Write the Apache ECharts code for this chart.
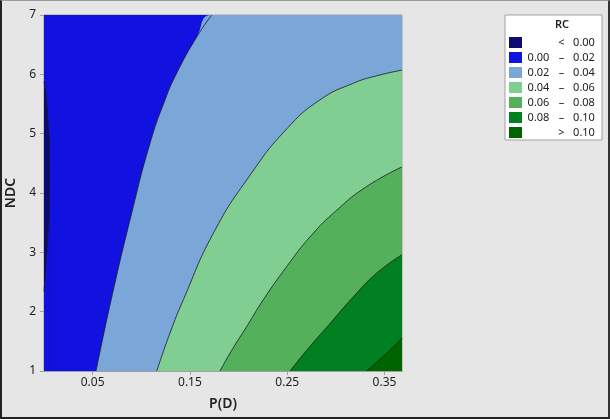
<!DOCTYPE html>
<html>
<head>
<meta charset="utf-8">
<title>RC contour</title>
<script src="https://cdn.jsdelivr.net/npm/echarts@6/dist/echarts.min.js"></script>
<style>
  html, body { margin: 0; padding: 0; background: #e6e6e6; }
  #wrap { position: relative; width: 610px; height: 419px; }
  #chart { width: 610px; height: 419px; }
  #frame {
    position: absolute; left: 0; top: 0; width: 610px; height: 419px;
    box-sizing: border-box; pointer-events: none;
    border-left: 2px solid #222; border-bottom: 2px solid #222;
    border-right: 2px solid #333; border-top: 1px solid #9a9a9a;
  }
</style>
</head>
<body>
<div id="wrap">
  <div id="chart"></div>
  <div id="frame"></div>
</div>
<script>
// RC 等值线图 (P(D) x NDC)

const bandNames = ['< 0.00', '0.00 – 0.02', '0.02 – 0.04', '0.04 – 0.06', '0.06 – 0.08', '0.08 – 0.10', '> 0.10'];
const xTicks = [0.05, 0.15, 0.25, 0.35];

// contour lines, [P(D), NDC]
const topEdge = [[0, 7], [0.368, 7]];
const c000Upper = [[0, 5.88], [0.0012, 5.75], [0.0028, 5.52], [0.0045, 5.12], [0.0054, 4.9], [0.0056, 4.3]];
const c000Lower = [[0, 2.34], [0.0012, 2.6], [0.0018, 2.76], [0.0028, 2.99], [0.0045, 3.43], [0.0054, 3.66], [0.0056, 4.3]];
const c002 = [[0.0535, 1.0], [0.069, 2.2], [0.0901, 3.66], [0.109, 4.84], [0.1244, 5.57], [0.1364, 6.02],
  [0.157, 6.63], [0.1724, 7.0]];
const c004 = [[0.1159, 1.0], [0.1295, 1.64], [0.1432, 2.2], [0.174, 3.32], [0.2118, 4.3], [0.2495, 5.08],
  [0.2837, 5.57], [0.318, 5.85], [0.3454, 5.99], [0.368, 6.07]];
const c006 = [[0.1809, 1.0], [0.193, 1.35], [0.2084, 1.75], [0.2254, 2.2], [0.2495, 2.76], [0.2734, 3.26],
  [0.3009, 3.71], [0.3317, 4.11], [0.368, 4.44]];
const c008 = [[0.2529, 1.0], [0.2701, 1.35], [0.294, 1.8], [0.318, 2.25], [0.342, 2.65], [0.368, 2.96]];
const c010 = [[0.3317, 1.0], [0.3523, 1.3], [0.368, 1.55]];

const colors = ['#0b0b72', '#1212e0', '#7ba7d8', '#80ce91', '#55b05c', '#008020', '#006400'];
const font = 'Noto Sans';
const textColor = '#222';
const xMax = 0.368;

const chart = echarts.init(document.getElementById('chart'));

const fill = (name, data, color) => ({
  name: name,
  type: 'line',
  data: data,
  color: color,
  showSymbol: false,
  smooth: 0.5,
  silent: true,
  lineStyle: { width: 0 },
  itemStyle: { color: color },
  areaStyle: { color: color, opacity: 1, origin: 'start' }
});

const stroke = data => ({
  type: 'line',
  data: data,
  showSymbol: false,
  smooth: 0.5,
  silent: true,
  lineStyle: { color: '#1a1a1a', width: 0.8 }
});

const series = [
  fill(bandNames[1], topEdge, colors[1]),
  fill(bandNames[0], c000Upper, colors[0]),
  fill(bandNames[1], c000Lower, colors[1]),
  fill(bandNames[2], c002.concat([[xMax, 7]]), colors[2]),
  fill(bandNames[3], c004, colors[3]),
  fill(bandNames[4], c006, colors[4]),
  fill(bandNames[5], c008, colors[5]),
  fill(bandNames[6], c010, colors[6]),
  stroke(c000Upper), stroke(c000Lower),
  stroke(c002), stroke(c004), stroke(c006), stroke(c008), stroke(c010)
];

const option = {
  animation: false,
  backgroundColor: '#e6e6e6',
  textStyle: { fontFamily: font },
  grid: {
    left: 44, right: 208, top: 15, bottom: 48,
    show: true, borderColor: '#a0a0a0', borderWidth: 1,
    outerBoundsMode: 'none'
  },
  xAxis: {
    type: 'value',
    min: 0,
    max: xMax,
    name: 'P(D)',
    nameLocation: 'middle',
    nameGap: 26,
    nameTextStyle: { fontFamily: font, fontSize: 14, fontWeight: 600, color: textColor },
    axisLine: { lineStyle: { color: '#a0a0a0' } },
    axisTick: { customValues: xTicks, length: 4, lineStyle: { color: '#a0a0a0' } },
    axisLabel: {
      customValues: xTicks,
      formatter: v => v.toFixed(2),
      margin: 6,
      fontFamily: font, fontSize: 12, color: textColor
    },
    splitLine: { show: false }
  },
  yAxis: {
    type: 'value',
    min: 1,
    max: 7,
    interval: 1,
    name: 'NDC',
    nameLocation: 'middle',
    nameGap: 24,
    nameTextStyle: { fontFamily: font, fontSize: 14, fontWeight: 600, color: textColor },
    axisLine: { show: true, lineStyle: { color: '#a0a0a0' } },
    axisTick: { show: true, length: 4, lineStyle: { color: '#a0a0a0' } },
    axisLabel: { margin: 8, fontFamily: font, fontSize: 12, color: textColor },
    splitLine: { show: false }
  },
  legend: {
    data: bandNames,
    orient: 'vertical',
    left: 509,
    top: 37,
    padding: 0,
    itemWidth: 13,
    itemHeight: 11,
    itemGap: 4,
    icon: 'rect',
    selectedMode: false,
    itemStyle: { borderWidth: 0 },
    formatter: name => {
      const p = name.split(' ');
      const lo = p.length === 3 ? p[0] : ' ';
      const sym = p.length === 3 ? p[1] : p[0];
      const hi = p[p.length - 1];
      return '{lo|' + lo + '}{sym|' + sym + '}{hi|' + hi + '}';
    },
    textStyle: {
      fontFamily: font, fontSize: 11, color: textColor,
      rich: {
        lo: { width: 23, align: 'right', fontFamily: font, fontSize: 11, color: textColor },
        sym: { width: 23, align: 'center', fontFamily: font, fontSize: 11, color: textColor },
        hi: { width: 22, align: 'left', fontFamily: font, fontSize: 11, color: textColor }
      }
    }
  },
  graphic: [
    {
      type: 'rect', z: 0,
      shape: { x: 505, y: 15, width: 97, height: 125 },
      style: { fill: '#ffffff', stroke: '#a0a0a0', lineWidth: 1 }
    },
    {
      type: 'text', z: 1,
      x: 562, y: 25,
      style: {
        text: 'RC', fontFamily: font, fontSize: 11, fontWeight: 600,
        fill: textColor, align: 'center', verticalAlign: 'middle'
      }
    }
  ],
  series: series
};

chart.setOption(option);
</script>
</body>
</html>
